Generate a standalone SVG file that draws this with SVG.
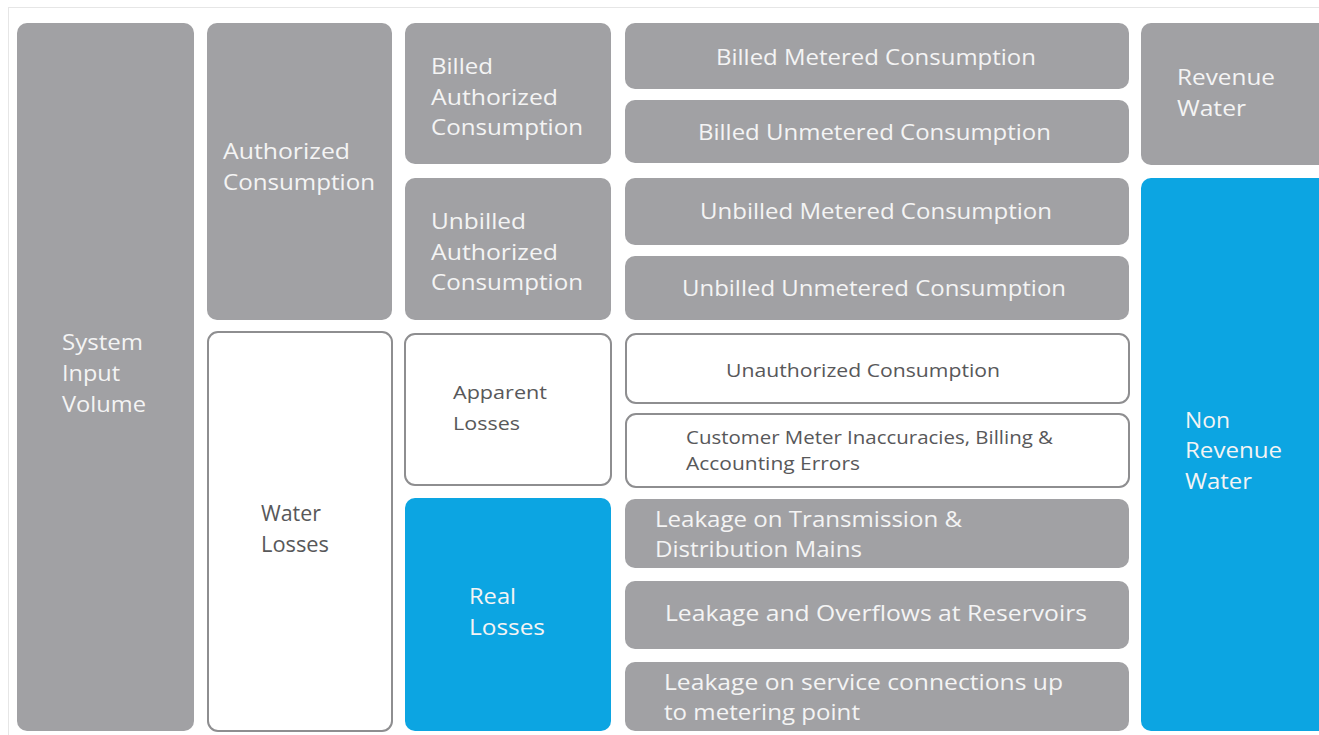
<svg xmlns="http://www.w3.org/2000/svg" width="1319" height="735" viewBox="0 0 1319 735">
  <style>
    .grey { fill: #a1a1a4; }
    .blue { fill: #0ca5e2; }
    .open { fill: #ffffff; stroke: #8e8e90; stroke-width: 2; }
    text { font-family: "Open Sans", "Liberation Sans", sans-serif; font-size: 22px; }
    .lt { fill: #f4f4f4; }
    .dk { fill: #58585a; }
    .sm { font-size: 19px; }
    .mid { text-anchor: middle; }
  </style>

  <rect width="1319" height="735" fill="#ffffff"/>
  <!-- outer frame -->
  <rect x="8.5" y="7.5" width="1330" height="745" fill="none" stroke="#e6e6e6" stroke-width="1"/>

  <g id="connectors"></g>

  <!-- column 1 -->
  <g id="system-input-volume">
    <rect class="grey" x="17" y="23" width="177" height="708" rx="10"/>
    <text class="lt" x="62" y="350" textLength="81" lengthAdjust="spacingAndGlyphs">System</text>
    <text class="lt" x="62" y="381" textLength="58" lengthAdjust="spacingAndGlyphs">Input</text>
    <text class="lt" x="62" y="412" textLength="84" lengthAdjust="spacingAndGlyphs">Volume</text>
  </g>

  <!-- column 2 -->
  <g id="authorized-consumption">
    <rect class="grey" x="207" y="23" width="185" height="297" rx="10"/>
    <text class="lt" x="223" y="159" textLength="127" lengthAdjust="spacingAndGlyphs">Authorized</text>
    <text class="lt" x="223" y="190" textLength="152" lengthAdjust="spacingAndGlyphs">Consumption</text>
  </g>
  <g id="water-losses">
    <rect class="open" x="208" y="332" width="184" height="399" rx="10"/>
    <text class="dk" x="261" y="521" textLength="60" lengthAdjust="spacingAndGlyphs">Water</text>
    <text class="dk" x="261" y="552" textLength="68" lengthAdjust="spacingAndGlyphs">Losses</text>
  </g>

  <!-- column 3 -->
  <g id="billed-authorized">
    <rect class="grey" x="405" y="23" width="206" height="141" rx="10"/>
    <text class="lt" x="431" y="74" textLength="62" lengthAdjust="spacingAndGlyphs">Billed</text>
    <text class="lt" x="431" y="105" textLength="127" lengthAdjust="spacingAndGlyphs">Authorized</text>
    <text class="lt" x="431" y="135" textLength="152" lengthAdjust="spacingAndGlyphs">Consumption</text>
  </g>
  <g id="unbilled-authorized">
    <rect class="grey" x="405" y="178" width="206" height="142" rx="10"/>
    <text class="lt" x="431" y="229" textLength="95" lengthAdjust="spacingAndGlyphs">Unbilled</text>
    <text class="lt" x="431" y="260" textLength="127" lengthAdjust="spacingAndGlyphs">Authorized</text>
    <text class="lt" x="431" y="290" textLength="152" lengthAdjust="spacingAndGlyphs">Consumption</text>
  </g>
  <g id="apparent-losses">
    <rect class="open" x="405" y="334" width="206" height="151" rx="10"/>
    <text class="dk sm" x="453" y="399" textLength="94" lengthAdjust="spacingAndGlyphs">Apparent</text>
    <text class="dk sm" x="453" y="430" textLength="67" lengthAdjust="spacingAndGlyphs">Losses</text>
  </g>
  <g id="real-losses">
    <rect class="blue" x="405" y="498" width="206" height="233" rx="10"/>
    <text class="lt" x="469" y="604" textLength="47" lengthAdjust="spacingAndGlyphs">Real</text>
    <text class="lt" x="469" y="635" textLength="76" lengthAdjust="spacingAndGlyphs">Losses</text>
  </g>

  <!-- column 4 -->
  <g id="billed-metered">
    <rect class="grey" x="625" y="23" width="504" height="66" rx="10"/>
    <text class="lt mid" x="876" y="65" textLength="320" lengthAdjust="spacingAndGlyphs">Billed Metered Consumption</text>
  </g>
  <g id="billed-unmetered">
    <rect class="grey" x="625" y="100" width="504" height="63" rx="10"/>
    <text class="lt mid" x="874.5" y="140" textLength="353" lengthAdjust="spacingAndGlyphs">Billed Unmetered Consumption</text>
  </g>
  <g id="unbilled-metered">
    <rect class="grey" x="625" y="178" width="504" height="67" rx="10"/>
    <text class="lt mid" x="876" y="219" textLength="352" lengthAdjust="spacingAndGlyphs">Unbilled Metered Consumption</text>
  </g>
  <g id="unbilled-unmetered">
    <rect class="grey" x="625" y="256" width="504" height="64" rx="10"/>
    <text class="lt mid" x="874" y="296" textLength="384" lengthAdjust="spacingAndGlyphs">Unbilled Unmetered Consumption</text>
  </g>
  <g id="unauthorized">
    <rect class="open" x="626" y="334" width="503" height="69" rx="10"/>
    <text class="dk sm mid" x="863" y="377" textLength="274" lengthAdjust="spacingAndGlyphs">Unauthorized Consumption</text>
  </g>
  <g id="meter-inaccuracies">
    <rect class="open" x="626" y="414" width="503" height="73" rx="10"/>
    <text class="dk sm" x="686" y="444" textLength="367" lengthAdjust="spacingAndGlyphs">Customer Meter Inaccuracies, Billing &amp;</text>
    <text class="dk sm" x="686" y="470" textLength="174" lengthAdjust="spacingAndGlyphs">Accounting Errors</text>
  </g>
  <g id="leakage-mains">
    <rect class="grey" x="625" y="499" width="504" height="69" rx="10"/>
    <text class="lt" x="655" y="527" textLength="307" lengthAdjust="spacingAndGlyphs">Leakage on Transmission &amp;</text>
    <text class="lt" x="655" y="557" textLength="207" lengthAdjust="spacingAndGlyphs">Distribution Mains</text>
  </g>
  <g id="leakage-reservoirs">
    <rect class="grey" x="625" y="581" width="504" height="68" rx="10"/>
    <text class="lt" x="665" y="621" textLength="422" lengthAdjust="spacingAndGlyphs">Leakage and Overflows at Reservoirs</text>
  </g>
  <g id="leakage-service">
    <rect class="grey" x="625" y="662" width="504" height="69" rx="10"/>
    <text class="lt" x="664" y="690" textLength="399" lengthAdjust="spacingAndGlyphs">Leakage on service connections up</text>
    <text class="lt" x="664" y="720" textLength="196" lengthAdjust="spacingAndGlyphs">to metering point</text>
  </g>

  <!-- column 5 -->
  <g id="revenue-water">
    <rect class="grey" x="1141" y="23" width="190" height="142" rx="10"/>
    <text class="lt" x="1177" y="85" textLength="98" lengthAdjust="spacingAndGlyphs">Revenue</text>
    <text class="lt" x="1177" y="116" textLength="69" lengthAdjust="spacingAndGlyphs">Water</text>
  </g>
  <g id="non-revenue-water">
    <rect class="blue" x="1141" y="178" width="190" height="553" rx="10"/>
    <text class="lt" x="1185" y="428" textLength="45" lengthAdjust="spacingAndGlyphs">Non</text>
    <text class="lt" x="1185" y="458" textLength="97" lengthAdjust="spacingAndGlyphs">Revenue</text>
    <text class="lt" x="1185" y="489" textLength="67" lengthAdjust="spacingAndGlyphs">Water</text>
  </g>
</svg>
